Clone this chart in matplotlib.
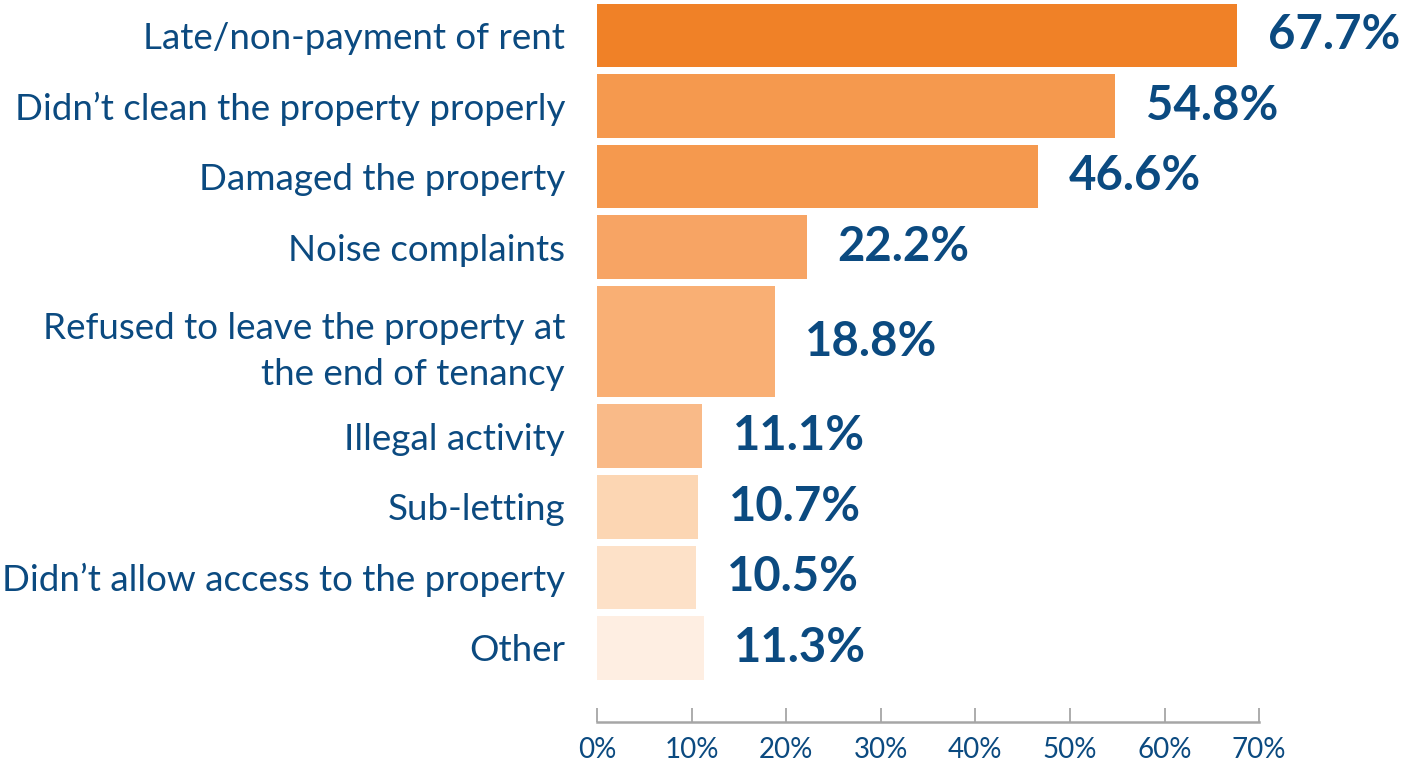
import numpy as np
import matplotlib
matplotlib.use('Agg')
import matplotlib.pyplot as plt

categories = [
    'Late/non-payment of rent',
    'Didn\u2019t clean the property properly',
    'Damaged the property',
    'Noise complaints',
    'Refused to leave the property at\nthe end of tenancy',
    'Illegal activity',
    'Sub-letting',
    'Didn\u2019t allow access to the property',
    'Other',
]
values = [67.7, 54.8, 46.6, 22.2, 18.8, 11.1, 10.7, 10.5, 11.3]
xticks = [0, 10, 20, 30, 40, 50, 60, 70]
xtick_labels = ['0%', '10%', '20%', '30%', '40%', '50%', '60%', '70%']

colores = ['#F08127', '#F5994E', '#F5994E', '#F7A464', '#F9AF74',
           '#F9BA88', '#FCD6B3', '#FDE1C8', '#FEEEE2']
azul = '#0B4A80'
gris = '#A6A6A6'

plt.rcParams['font.family'] = ['Lato', 'DejaVu Sans']

# altura de cada fila (la de dos lineas es mas alta)
filas = np.array([1, 1, 1, 1, 1.68, 1, 1, 1, 1])
inicio = np.concatenate([[0], np.cumsum(filas)[:-1]])
centros = inicio + filas / 2
alturas = filas - 0.1

fig = plt.figure(figsize=(14.03, 7.67), dpi=100)
ax = fig.add_axes([597 / 1403, 45 / 767, 665 / 1403, 722 / 767])

ax.barh(centros, values, height=alturas, color=colores, edgecolor='none')

for c, v in zip(centros, values):
    ax.annotate(f'{v:.1f}%', xy=(v, c), xytext=(22, 0), textcoords='offset points',
                ha='left', va='center', fontsize=34, fontweight='bold', color=azul)

ax.set_ylim(filas.sum() + 0.55, 0)
ax.set_xlim(0, 70.3)

ax.set_yticks(centros)
ax.set_yticklabels(categories, fontsize=26.5, color=azul, linespacing=1.5)
ax.tick_params(axis='y', length=0, pad=23)
for lbl in ax.get_yticklabels():
    lbl.set_horizontalalignment('right')

ax.set_xticks(xticks)
ax.set_xticklabels(xtick_labels, fontsize=20, color=azul)
ax.tick_params(axis='x', direction='in', length=10, width=1.3, color=gris, pad=11)

for s in ['top', 'right', 'left']:
    ax.spines[s].set_visible(False)
ax.spines['bottom'].set_color(gris)
ax.spines['bottom'].set_linewidth(1.8)
ax.spines['bottom'].set_bounds(0, 70)

fig.savefig('out.png', dpi=100)
plt.close(fig)
